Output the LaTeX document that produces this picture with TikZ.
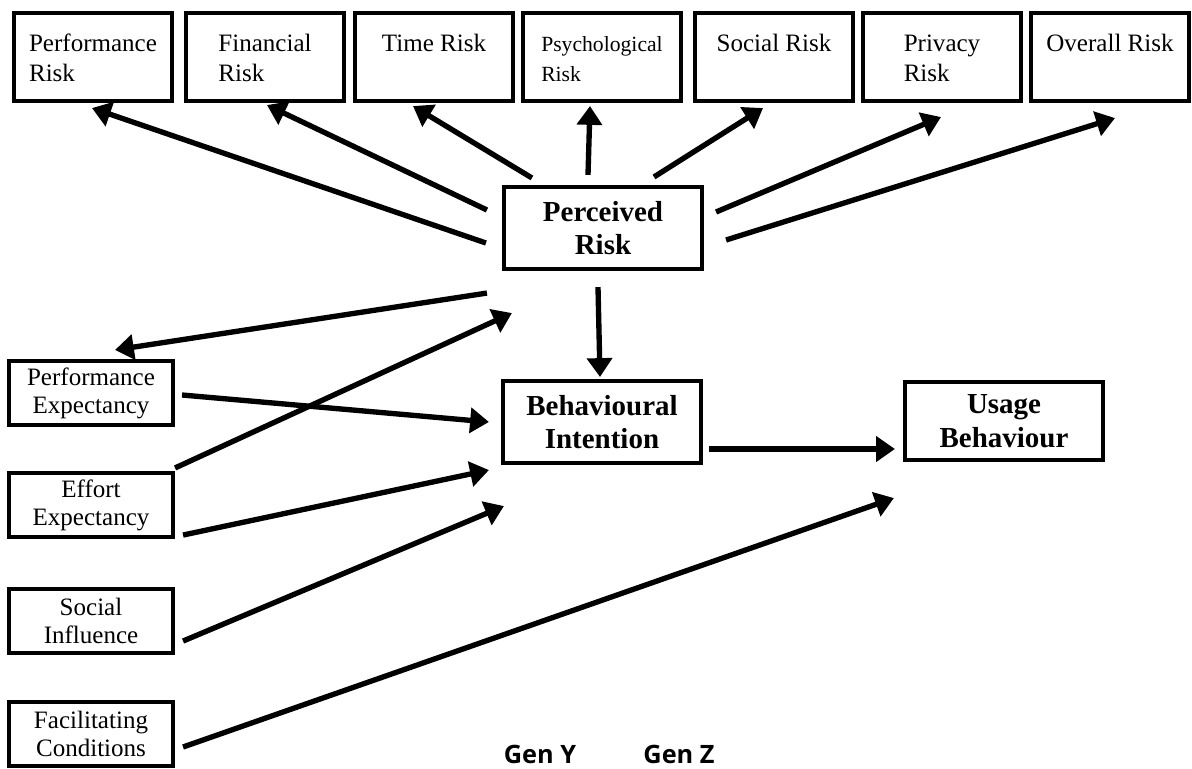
\documentclass[tikz,border=0pt]{standalone}
\usepackage{fontspec}
\setmainfont{Liberation Serif}
\newfontfamily\gensans{Open Sans}
\usetikzlibrary{arrows.meta}
\newcommand{\riskname}[2]{\begin{tabular}[t]{@{}l@{}}#1\\#2\end{tabular}}

\begin{document}
\begin{tikzpicture}[x=0.025cm, y=-0.025cm,
        riskbox/.style={draw, line width=2.9pt, minimum width=3.95cm,
                        text height=0.875cm, text depth=1.125cm, inner sep=0.1cm,
                        font=\fontsize{17.8}{21.3}\selectfont},
        factbox/.style={draw, line width=2.9pt, minimum width=4.1cm,
                        minimum height=1.6cm, inner sep=1pt, align=center,
                        font=\fontsize{17.8}{20}\selectfont},
        mainbox/.style={draw, line width=2.9pt, minimum width=4.95cm,
                        minimum height=2.05cm, align=center,
                        font=\fontsize{20.6}{24}\selectfont\bfseries},
        arr/.style={line width=3.8pt, -{Triangle[length=0.47cm, width=0.62cm]}},
        gen/.style={font=\gensans\fontsize{18}{22}\selectfont\bfseries,
                    anchor=base, inner sep=0pt}
    ]
    \useasboundingbox (0, 0) rectangle (1192, 769);

    % risk dimensions
    \node[riskbox] (perfrisk) at (93, 57) {\riskname{Performance}{Risk}};
    \node[riskbox] (finrisk) at (265, 57) {\riskname{Financial}{Risk}};
    \node[riskbox] (timerisk) at (434, 57) {Time Risk};
    \node[riskbox, font=\fontsize{15.4}{21.3}\selectfont] (psyrisk) at (602, 57)
        {\riskname{Psychological}{Risk}};
    \node[riskbox] (socrisk) at (774, 57) {Social Risk};
    \node[riskbox] (privrisk) at (942, 57) {\riskname{Privacy}{Risk}};
    \node[riskbox] (allrisk) at (1110, 57) {Overall Risk};

    % main constructs
    \node[mainbox] (percrisk) at (603, 228) {Perceived\\Risk};
    \node[mainbox] (behint) at (602, 422) {Behavioural\\Intention};
    \node[mainbox, minimum height=1.95cm] (usebeh) at (1004, 421) {Usage\\Behaviour};

    % UTAUT factors
    \node[factbox] (perfexp) at (91, 393) {Performance\\Expectancy};
    \node[factbox] (effexp) at (91, 505) {Effort\\Expectancy};
    \node[factbox] (socinf) at (91, 621) {Social\\Influence};
    \node[factbox] (faccond) at (91, 734) {Facilitating\\Conditions};

    \node[gen] (geny) at (540, 763) {Gen Y};
    \node[gen] (genz) at (679, 763) {Gen Z};

    % perceived risk -> risk dimensions
    \draw[arr] ([shift={(-16,15)}]percrisk.west) -- ([shift={(-1,5)}]perfrisk.south);
    \draw[arr] ([shift={(-15,-18)}]percrisk.west) -- ([shift={(2,2)}]finrisk.south);
    \draw[arr] ([shift={(30,-7)}]percrisk.north west) -- ([shift={(-21,3)}]timerisk.south);
    \draw[arr] ([shift={(-15,-10)}]percrisk.north) -- ([shift={(-12,3)}]psyrisk.south);
    \draw[arr] ([shift={(51,-8)}]percrisk.north) -- ([shift={(-11,5)}]socrisk.south);
    \draw[arr] ([shift={(12,-16)}]percrisk.east) -- ([shift={(-1,14)}]privrisk.south);
    \draw[arr] ([shift={(22,12)}]percrisk.east) -- ([shift={(5,15)}]allrisk.south);

    % structural paths
    \draw[arr] ([shift={(-5,16)}]percrisk.south) -- ([shift={(-2,-2)}]behint.north);
    \draw[arr] ([shift={(-15,22)}]percrisk.south west) -- ([shift={(24,-9)}]perfexp.north);
    \draw[arr] ([shift={(0,-3)}]effexp.north east) -- ([shift={(10,42)}]percrisk.south west);
    \draw[arr] ([shift={(7,2)}]perfexp.east) -- ([shift={(-12,0)}]behint.west);
    \draw[arr] ([shift={(8,-4)}]effexp.south east) -- ([shift={(-12,5)}]behint.south west);
    \draw[arr] ([shift={(8,-14)}]socinf.south east) -- ([shift={(3,41)}]behint.south west);
    \draw[arr] ([shift={(8,13)}]faccond.east) -- ([shift={(-9,36)}]usebeh.south west);
    \draw[arr] ([shift={(6,27)}]behint.east) -- ([shift={(-8,28)}]usebeh.west);

\end{tikzpicture}
\end{document}
